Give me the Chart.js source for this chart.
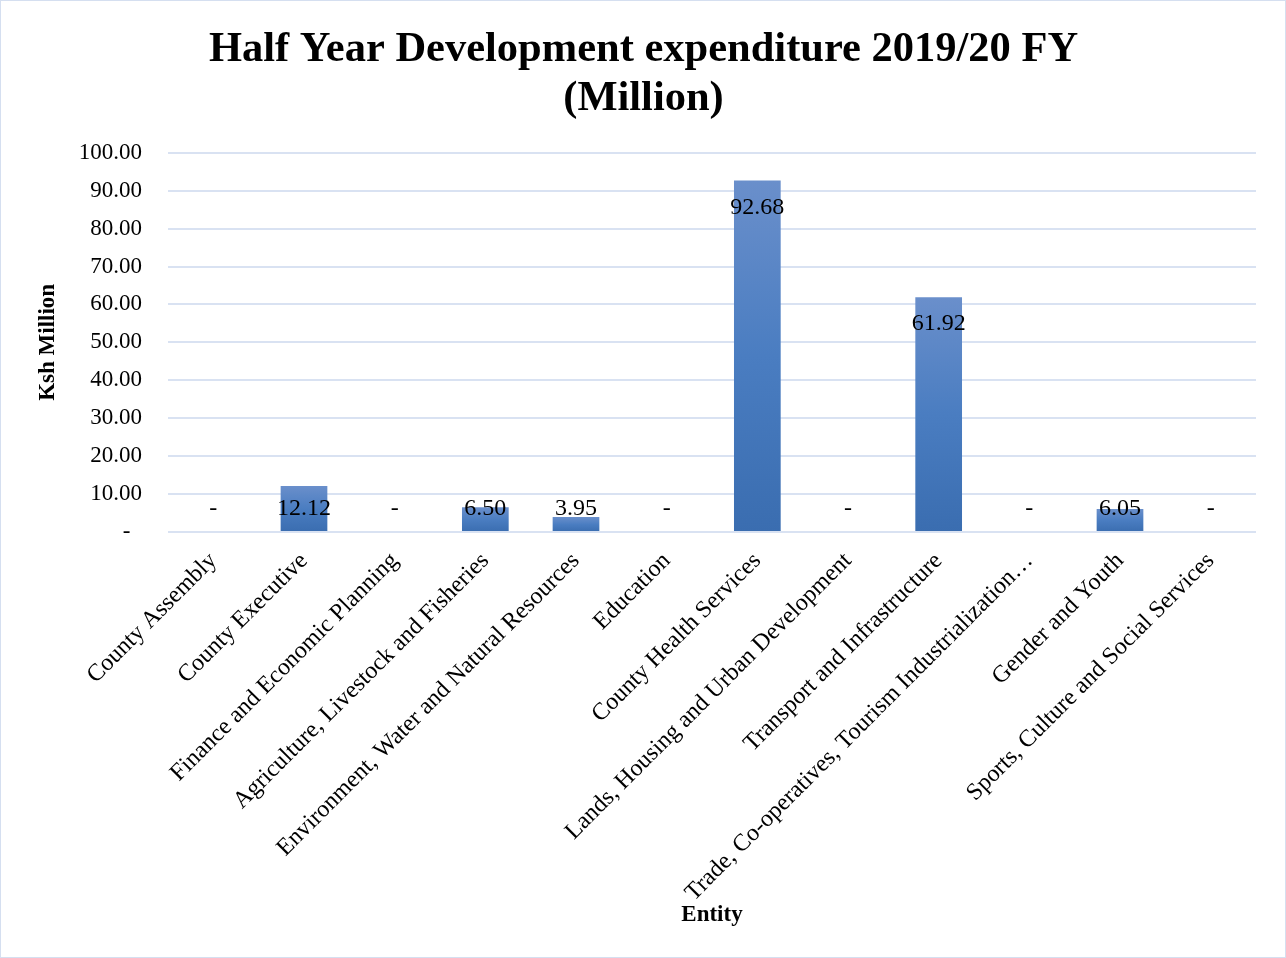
<!DOCTYPE html>
<html>
<head>
<meta charset="utf-8">
<title>Half Year Development expenditure 2019/20 FY</title>
<script src="https://cdn.jsdelivr.net/npm/chart.js@4.4.1/dist/chart.umd.min.js"></script>
<style>
  html, body { margin: 0; padding: 0; background: #ffffff; }
  #frame {
    width: 1286px; height: 958px; box-sizing: border-box;
    border: 1px solid #d5dff0; background: #ffffff;
  }
  canvas { display: block; }
</style>
</head>
<body>
<div id="frame"><canvas id="chart" width="1284" height="956"></canvas></div>
<script>
// Departments (x categories)
const entities = [
  'County Assembly',
  'County Executive',
  'Finance and Economic Planning',
  'Agriculture, Livestock and Fisheries',
  'Environment, Water and Natural Resources',
  'Education',
  'County Health Services',
  'Lands, Housing and Urban Development',
  'Transport and Infrastructure',
  'Trade, Co-operatives, Tourism Industrialization\u2026',
  'Gender and Youth',
  'Sports, Culture and Social Services'
];

// Development expenditure, Ksh million
const expenditure = [0, 12.12, 0, 6.50, 3.95, 0, 92.68, 0, 61.92, 0, 6.05, 0];

// Value axis ticks
const yTicks = [0, 10, 20, 30, 40, 50, 60, 70, 80, 90, 100];

const SERIF = '"Liberation Serif", "Times New Roman", Times, serif';
const GRID = '#d9e2f2';

function fmt(v) {
  return v === 0 ? '-' : v.toFixed(2);
}

// Per-bar vertical gradient: lighter at the top, deeper blue at the base
function barFill(ctx) {
  const chart = ctx.chart;
  if (!chart.chartArea || ctx.type !== 'data') return '#4a7bbd';
  const y = chart.scales.y;
  const v = ctx.parsed ? ctx.parsed.y : 0;
  const top = y.getPixelForValue(v);
  const base = y.getPixelForValue(0);
  if (!(base - top > 1)) return '#4a7bbd';
  const g = chart.ctx.createLinearGradient(0, top, 0, base);
  g.addColorStop(0, '#6a8fcb');
  g.addColorStop(0.5, '#4a7dc1');
  g.addColorStop(1, '#3a6db0');
  return g;
}

// Value labels placed just inside the top of each bar
const valueLabels = {
  id: 'valueLabels',
  afterDatasetsDraw(chart) {
    const { ctx } = chart;
    const meta = chart.getDatasetMeta(0);
    const base = chart.scales.y.getPixelForValue(0);
    ctx.save();
    ctx.font = '24px ' + SERIF;
    ctx.fillStyle = '#000000';
    ctx.textAlign = 'center';
    ctx.textBaseline = 'middle';
    meta.data.forEach((bar, i) => {
      const v = expenditure[i];
      const yPos = Math.min(bar.y + 27, base - 23);
      ctx.fillText(fmt(v), bar.x, yPos);
    });
    ctx.restore();
  }
};

new Chart(document.getElementById('chart'), {
  type: 'bar',
  data: {
    labels: entities,
    datasets: [{
      label: 'Development expenditure',
      data: expenditure,
      backgroundColor: barFill,
      borderWidth: 0,
      barPercentage: 0.515,
      categoryPercentage: 1.0
    }]
  },
  options: {
    responsive: false,
    animation: false,
    layout: { padding: { left: 25, right: 24, top: 0, bottom: 9 } },
    plugins: {
      legend: { display: false },
      tooltip: { enabled: false },
      title: {
        display: true,
        text: ['Half Year Development expenditure 2019/20 FY', '(Million)'],
        color: '#000000',
        font: { family: SERIF, size: 42.5, weight: 'bold', lineHeight: 1.15 },
        padding: { top: 25, bottom: 29 }
      }
    },
    scales: {
      x: {
        grid: { display: false, drawTicks: false },
        border: { display: false },
        ticks: {
          autoSkip: false,
          maxRotation: 45,
          minRotation: 45,
          padding: 15,
          color: '#000000',
          font: { family: SERIF, size: 24 }
        },
        title: {
          display: true,
          text: 'Entity',
          color: '#000000',
          font: { family: SERIF, size: 23, weight: 'bold', lineHeight: 1.2 },
          padding: { top: 0, bottom: 19 }
        },
        afterFit(scale) { scale.height = 416; }
      },
      y: {
        min: 0,
        max: 100,
        afterBuildTicks(scale) { scale.ticks = yTicks.map(v => ({ value: v })); },
        grid: { color: GRID, lineWidth: 2, drawTicks: false },
        border: { display: false },
        ticks: {
          padding: 26,
          color: '#000000',
          font: { family: SERIF, size: 23 },
          callback: (v) => (v === 0 ? '-  ' : Number(v).toFixed(2))
        },
        title: {
          display: true,
          text: 'Ksh Million',
          color: '#000000',
          font: { family: SERIF, size: 23, weight: 'bold', lineHeight: 1.2 },
          padding: { top: 8, bottom: 0 }
        },
        afterFit(scale) { scale.width = 142; }
      },
      // empty right-hand gutter so the plot ends short of the frame
      gutter: {
        type: 'linear',
        position: 'right',
        display: true,
        grid: { display: false, drawTicks: false },
        border: { display: false },
        ticks: { display: false },
        afterFit(scale) { scale.width = 5; }
      }
    }
  },
  plugins: [valueLabels]
});
</script>
</body>
</html>
